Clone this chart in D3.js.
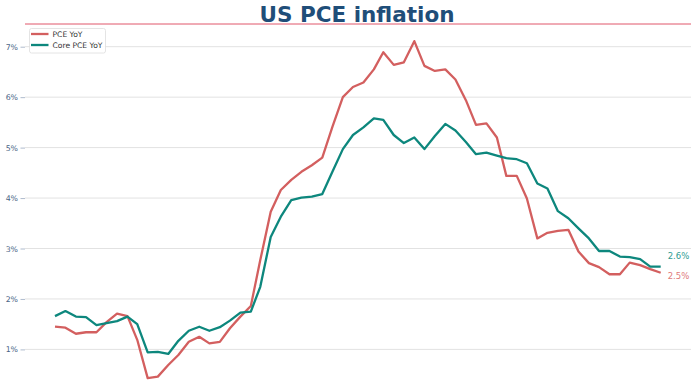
<!DOCTYPE html>
<html>
<head>
<meta charset="utf-8">
<script src="https://cdn.jsdelivr.net/npm/d3@7"></script>
<style>
  html, body { margin: 0; padding: 0; background: #fff; }
  svg { display: block; font-family: "DejaVu Sans", sans-serif; }
</style>
</head>
<body>
<svg id="chart" width="696" height="385"></svg>
<script>
// ---- data (monthly, Jul 2019 – Jun 2024) ----
const startMonth = "2019-07";
const endMonth = "2024-06";
const pceYoY = [1.45, 1.43, 1.31, 1.34, 1.34, 1.54, 1.71, 1.66, 1.19, 0.43,
                0.46, 0.69, 0.89, 1.15, 1.25, 1.12, 1.15, 1.42, 1.65, 1.86,
                2.77, 3.73, 4.16, 4.36, 4.52, 4.65, 4.80, 5.41, 6.00, 6.20,
                6.29, 6.55, 6.89, 6.64, 6.69, 7.11, 6.62, 6.52, 6.55, 6.35,
                5.94, 5.45, 5.48, 5.20, 4.44, 4.44, 3.99, 3.20, 3.31, 3.35,
                3.37, 2.94, 2.71, 2.63, 2.49, 2.49, 2.72, 2.67, 2.59, 2.52];
const corePceYoY = [1.66, 1.76, 1.65, 1.64, 1.48, 1.52, 1.56, 1.65, 1.50, 0.94,
                    0.95, 0.91, 1.17, 1.37, 1.45, 1.37, 1.44, 1.57, 1.73, 1.75,
                    2.24, 3.23, 3.63, 3.96, 4.01, 4.03, 4.08, 4.52, 4.97, 5.25,
                    5.40, 5.58, 5.55, 5.25, 5.09, 5.20, 4.97, 5.23, 5.47, 5.34,
                    5.11, 4.87, 4.90, 4.84, 4.79, 4.77, 4.69, 4.29, 4.19, 3.74,
                    3.60, 3.40, 3.20, 2.95, 2.95, 2.84, 2.83, 2.79, 2.64, 2.64];
const yTicks = [1, 2, 3, 4, 5, 6, 7];
const seriesNames = ["PCE YoY", "Core PCE YoY"];
const endLabels = ["2.5%", "2.6%"];
const title = "US PCE inflation";

// ---- setup ----
const parse = d3.timeParse("%Y-%m");
const months = d3.timeMonth.range(parse(startMonth), d3.timeMonth.offset(parse(endMonth), 1));
const colors = ["#d35f5f", "#0d877d"];
const labelColors = ["#e07a7a", "#2f9c92"];

const svg = d3.select("#chart");
const plotLeft = 25, plotRight = 691;

const x = d3.scaleTime().domain([months[0], months[months.length - 1]]).range([55, 660.7]);
const y = d3.scaleLinear().domain([1, 7]).range([349.4, 46.7]);

// gridlines
svg.append("g").selectAll("line").data(yTicks).join("line")
  .attr("x1", plotLeft).attr("x2", plotRight)
  .attr("y1", d => y(d)).attr("y2", d => y(d))
  .attr("stroke", "#e2e2e2").attr("stroke-width", 1);

// y axis (ticks + labels)
const yAxis = d3.axisLeft(y).tickValues(yTicks).tickFormat(d => d + "%").tickSize(4.5).tickPadding(2.5);
const gy = svg.append("g").attr("transform", `translate(${plotLeft},0)`).call(yAxis);
gy.select(".domain").remove();
gy.selectAll(".tick line").attr("stroke", "#9aaac0").attr("stroke-width", 0.8);
gy.selectAll(".tick text").attr("fill", "#4a6486").style("font-size", "7.8px")
  .style("font-family", "DejaVu Sans, sans-serif");

// top rule
svg.append("line").attr("x1", plotLeft).attr("x2", plotRight)
  .attr("y1", 24).attr("y2", 24).attr("stroke", "#e0566a").attr("stroke-width", 1);

// lines
const series = [pceYoY, corePceYoY];
const line = d3.line().x((d, i) => x(months[i])).y(d => y(d));
series.forEach((s, k) => {
  svg.append("path").datum(s)
    .attr("fill", "none").attr("stroke", colors[k])
    .attr("stroke-width", 2.3).attr("stroke-linejoin", "round")
    .attr("d", line);
});

// end labels
const endY = [279.3, 258.5];
series.forEach((s, k) => {
  svg.append("text")
    .attr("x", x(months[months.length - 1]) + 7)
    .attr("y", endY[k])
    .attr("fill", labelColors[k])
    .style("font-size", "8.5px")
    .text(endLabels[k]);
});

// title
svg.append("text").attr("x", 357).attr("y", 21.5)
  .attr("text-anchor", "middle")
  .attr("fill", "#1f4e79")
  .style("font-size", "21.5px").style("font-weight", "bold")
  .text(title);

// legend
const lg = svg.append("g");
lg.append("rect").attr("x", 29.5).attr("y", 28.5).attr("width", 76).attr("height", 24.5)
  .attr("rx", 2).attr("fill", "rgba(255,255,255,0.85)")
  .attr("stroke", "#dddddd").attr("stroke-width", 0.8);
seriesNames.forEach((n, k) => {
  const yy = 34 + k * 11;
  lg.append("line").attr("x1", 31).attr("x2", 48.5).attr("y1", yy).attr("y2", yy)
    .attr("stroke", colors[k]).attr("stroke-width", 2.3);
  lg.append("text").attr("x", 52.5).attr("y", yy + 2.8)
    .attr("fill", "#333").style("font-size", "7.6px").text(n);
});
</script>
</body>
</html>
